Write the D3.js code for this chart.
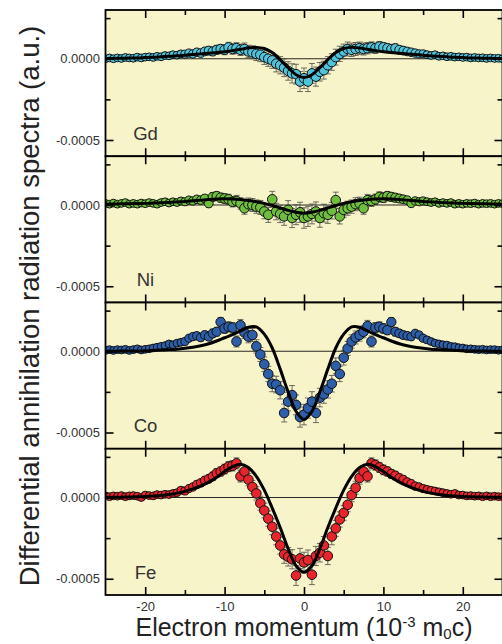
<!DOCTYPE html>
<html>
<head>
<meta charset="utf-8">
<script src="https://cdn.jsdelivr.net/npm/d3@7"></script>
<style>
body { margin: 0; background: #fff; }
svg text { font-family: "Liberation Sans", Arial, Helvetica, sans-serif; }
</style>
</head>
<body>
<div id="graph"></div>
<script>
console.clear()

// electron momentum grid, 10^-3 m0c
var momentum = [
  -25, -24.5, -24, -23.5, -23, -22.5, -22, -21.5, -21, -20.5,
  -20, -19.5, -19, -18.5, -18, -17.5, -17, -16.5, -16, -15.5,
  -15, -14.5, -14, -13.5, -13, -12.5, -12, -11.5, -11, -10.5,
  -10, -9.5, -9, -8.5, -8, -7.5, -7, -6.5, -6, -5.5,
  -5, -4.5, -4, -3.5, -3, -2.5, -2, -1.5, -1, -0.5,
  0,
  0.5, 1, 1.5, 2, 2.5, 3, 3.5, 4, 4.5, 5,
  5.5, 6, 6.5, 7, 7.5, 8, 8.5, 9, 9.5, 10,
  10.5, 11, 11.5, 12, 12.5, 13, 13.5, 14, 14.5, 15,
  15.5, 16, 16.5, 17, 17.5, 18, 18.5, 19, 19.5, 20,
  20.5, 21, 21.5, 22, 22.5, 23, 23.5, 24, 24.5, 25
]

// measured spectra, units of 1e-4
var gdValues = [
  0.0, 0.05, 0.0, 0.05, 0.02, 0.08, 0.05, 0.03, 0.1, 0.05,
  0.1, 0.12, 0.08, 0.15, 0.12, 0.2, 0.18, 0.25, 0.22, 0.3,
  0.28, 0.35, 0.3, 0.4, 0.35, 0.45, 0.5, 0.45, 0.55, 0.6,
  0.55, 0.7, 0.6, 0.65, 0.55, 0.6, 0.45, 0.4, 0.3, 0.25,
  0.1, 0.0, -0.1, -0.3, -0.4, -0.55, -0.75, -0.9, -0.95, -1.4,
  -1.2,
  -1.4, -0.9, -1.1, -0.8, -0.7, -0.4, -0.2, 0.1, 0.3, 0.45,
  0.6, 0.55, 0.6, 0.65, 0.6, 0.65, 0.7, 0.65, 0.75, 0.7,
  0.65, 0.6, 0.65, 0.55, 0.5, 0.45, 0.4, 0.35, 0.3, 0.3,
  0.25, 0.2, 0.25, 0.15, 0.18, 0.12, 0.15, 0.1, 0.12, 0.08,
  0.1, 0.05, 0.08, 0.05, 0.06, 0.02, 0.05, 0.02, 0.03, 0.0
]

var niValues = [
  0.1, 0.05, 0.12, 0.05, 0.1, 0.15, 0.05, 0.1, 0.05, 0.12,
  0.08, 0.15, 0.1, 0.05, 0.15, 0.2, 0.12, 0.2, 0.15, 0.25,
  0.2, 0.3, 0.25, 0.35, 0.3, 0.4, 0.1, 0.5, 0.55, 0.45,
  0.4, 0.35, 0.2, 0.25, 0.1, -0.2, 0.05, 0.0, -0.1, -0.15,
  -0.4, -0.6, 0.35, -0.4, -0.55, -0.7, -0.3, -0.8, -0.6, -0.45,
  -0.8,
  -0.7, -0.55, -0.4, -0.8, -0.5, -0.6, -0.35, 0.3, -0.7, -0.3,
  -0.2, -0.1, 0.05, 0.1, -0.2, 0.3, 0.25, 0.35, 0.5, 0.45,
  0.55, 0.5, 0.45, 0.4, 0.35, 0.3, 0.1, 0.25, 0.2, 0.25,
  0.2, 0.15, 0.2, 0.1, 0.15, 0.1, 0.15, 0.05, 0.1, 0.05,
  0.1, 0.08, 0.12, 0.05, 0.1, 0.08, 0.1, 0.05, 0.1, 0.08
]

var coValues = [
  0.05, 0.1, 0.05, 0.1, 0.08, 0.12, 0.05, 0.1, 0.15, 0.08,
  0.12, 0.15, 0.2, 0.25, 0.3, 0.35, 0.45, 0.4, 0.5, 0.55,
  0.6, 0.8, 0.9, 0.95, 0.85, 1.0, 0.9, 1.1, 1.2, 1.8,
  1.4, 1.5, 1.45, 0.6, 1.6, 1.15, 0.9, 1.0, 0.3, -0.2,
  -0.8, -1.4, -2.0, -2.05, -2.4, -3.8, -3.1, -2.7, -3.3, -4.05,
  -3.9,
  -3.5, -3.1, -3.8, -2.85, -2.65, -2.35, -2.0, -0.9, -1.4, -0.4,
  0.17, 0.6, 0.85, 1.0, 1.2, 1.55, 0.6, 1.45, 1.5, 1.4,
  1.3, 1.8, 1.2, 1.1, 1.0, 0.95, 0.9, 1.1, 1.0, 0.8,
  0.7, 0.6, 0.5, 0.45, 0.4, 0.38, 0.3, 0.28, 0.22, 0.2,
  0.15, 0.15, 0.12, 0.1, 0.12, 0.08, 0.1, 0.1, 0.06, 0.08
]

var feValues = [
  0.1, 0.05, 0.1, 0.08, 0.12, 0.05, 0.1, 0.12, 0.08, 0.0,
  0.15, 0.12, 0.1, 0.18, 0.15, 0.2, 0.18, 0.25, 0.3, 0.45,
  0.4, 0.55, 0.65, 0.8, 0.9, 1.05, 1.15, 1.3, 1.5, 1.6,
  1.75, 1.9, 1.95, 2.1, 1.3, 1.6, 1.1, 0.65, 0.25, -0.35,
  -0.8, -1.3, -1.8, -2.4, -2.95, -3.5, -3.65, -3.8, -4.8, -3.75,
  -4.0,
  -3.85, -4.75, -3.6, -3.4, -2.95, -3.6, -2.4, -1.9, -1.35, -0.95,
  -0.45, 0.15, 0.6, 1.2, 1.6, 1.3, 2.1, 2.0, 1.85, 1.7,
  1.6, 1.45, 1.35, 1.2, 1.1, 0.95, 0.85, 0.7, 0.65, 0.55,
  0.5, 0.45, 0.4, 0.35, 0.3, 0.25, 0.2, 0.25, 0.15, 0.15,
  0.1, 0.12, 0.08, 0.1, 0.05, 0.1, 0.05, 0.08, 0.05, 0.05
]

// error bar half-heights, units of 1e-4
var errValues = [
  0.1, 0.1, 0.1, 0.1, 0.1, 0.1, 0.1, 0.1, 0.1, 0.1,
  0.12, 0.12, 0.13, 0.13, 0.14, 0.14, 0.15, 0.15, 0.16, 0.17,
  0.18, 0.19, 0.2, 0.21, 0.22, 0.23, 0.24, 0.26, 0.27, 0.28,
  0.3, 0.31, 0.32, 0.34, 0.35, 0.37, 0.38, 0.4, 0.41, 0.43,
  0.45, 0.47, 0.49, 0.51, 0.53, 0.55, 0.57, 0.59, 0.61, 0.62,
  0.63,
  0.62, 0.61, 0.59, 0.57, 0.55, 0.53, 0.51, 0.49, 0.47, 0.45,
  0.43, 0.41, 0.4, 0.38, 0.37, 0.35, 0.34, 0.32, 0.31, 0.3,
  0.28, 0.27, 0.26, 0.24, 0.23, 0.22, 0.21, 0.2, 0.19, 0.18,
  0.17, 0.16, 0.15, 0.15, 0.14, 0.14, 0.13, 0.13, 0.12, 0.12,
  0.1, 0.1, 0.1, 0.1, 0.1, 0.1, 0.1, 0.1, 0.1, 0.1
]

// calculated curves on a 1-unit grid
var fitMomentum = [
  -25, -24, -23, -22, -21, -20, -19, -18, -17, -16, -15, -14, -13,
  -12, -11, -10, -9, -8, -7, -6, -5, -4, -3, -2, -1, 0,
  1, 2, 3, 4, 5, 6, 7, 8, 9, 10, 11, 12, 13,
  14, 15, 16, 17, 18, 19, 20, 21, 22, 23, 24, 25
]

var gdFit = [
  0.01, 0.02, 0.03, 0.04, 0.05, 0.07, 0.09, 0.12, 0.15, 0.18, 0.22, 0.26, 0.3,
  0.34, 0.38, 0.43, 0.5, 0.58, 0.66, 0.7, 0.63, 0.38, -0.05, -0.55, -0.98, -1.15,
  -0.98, -0.55, -0.05, 0.38, 0.63, 0.7, 0.66, 0.58, 0.5, 0.43, 0.38, 0.34, 0.3,
  0.26, 0.22, 0.18, 0.15, 0.12, 0.09, 0.07, 0.05, 0.04, 0.03, 0.02, 0.01
]

var niFit = [
  0.05, 0.06, 0.07, 0.08, 0.09, 0.1, 0.12, 0.14, 0.16, 0.19, 0.22, 0.26, 0.3,
  0.34, 0.37, 0.38, 0.37, 0.34, 0.28, 0.2, 0.1, -0.03, -0.18, -0.33, -0.45, -0.5,
  -0.45, -0.33, -0.18, -0.03, 0.1, 0.2, 0.28, 0.34, 0.37, 0.38, 0.37, 0.34, 0.3,
  0.26, 0.22, 0.19, 0.16, 0.14, 0.12, 0.1, 0.09, 0.08, 0.07, 0.06, 0.05
]

var coFit = [
  0, 0, 0.01, 0.01, 0.02, 0.03, 0.05, 0.07, 0.1, 0.13, 0.18, 0.25, 0.34,
  0.46, 0.63, 0.83, 1.02, 1.25, 1.48, 1.5, 1.05, 0.2, -1.1, -2.5, -3.7, -4.2,
  -3.7, -2.5, -1.1, 0.2, 1.05, 1.5, 1.48, 1.25, 1.02, 0.83, 0.63, 0.46, 0.34,
  0.25, 0.18, 0.13, 0.1, 0.07, 0.05, 0.03, 0.02, 0.01, 0.01, 0, 0
]

var feFit = [
  0.01, 0.01, 0.02, 0.03, 0.04, 0.06, 0.09, 0.13, 0.19, 0.27, 0.38, 0.53, 0.72,
  0.95, 1.25, 1.6, 1.9, 2.05, 1.85, 1.3, 0.45, -0.65, -1.85, -3.15, -4.2, -4.6,
  -4.2, -3.15, -1.85, -0.65, 0.45, 1.3, 1.85, 2.05, 1.9, 1.6, 1.25, 0.95, 0.72,
  0.53, 0.38, 0.27, 0.19, 0.13, 0.09, 0.06, 0.04, 0.03, 0.02, 0.01, 0.01
]

var elements = ['Gd', 'Ni', 'Co', 'Fe']
var xMajorTicks = [-20, -10, 0, 10, 20]
var xMinorTicks = [-15, -5, 5, 15]
var xTickLabels = ['-20', '-10', '0', '10', '20']
var yMajorTicks = [0, -5]
var yMinorTicks = [2.5, -2.5]
var yTickLabels = ['0.0000', '-0.0005']

var colors = {Gd: '#4fc3da', Ni: '#6fbe3e', Co: '#2c5ea9', Fe: '#e8242c'}
var spectra = {Gd: gdValues, Ni: niValues, Co: coValues, Fe: feValues}
var fits = {Gd: gdFit, Ni: niFit, Co: coFit, Fe: feFit}

var width = 502, height = 644
var panelTop = 10, panelH = 146.25
var bg = '#f8f4c9'

var x = d3.scaleLinear().domain([-25, 25]).range([105.5, 502.5])
var r = d3.scaleLinear().domain([10, 16]).range([4.8, 3.9]).clamp(true)

var svg = d3.select('#graph').append('svg')
  .attr('width', width).attr('height', height)

elements.forEach(function(name, i){
  var top = panelTop + i*panelH
  var bottom = top + panelH
  var y = d3.scaleLinear().domain([-6, 3]).range([bottom, top])

  var points = momentum.map(function(m, j){
    return {m: m, v: spectra[name][j], e: errValues[j]}
  })
  var curve = fitMomentum.map(function(m, j){ return {m: m, v: fits[name][j]} })

  svg.append('clipPath').attr('id', 'clip' + i)
    .append('rect')
    .attr('x', x(-25)).attr('y', top)
    .attr('width', x(25) - x(-25)).attr('height', panelH)

  var g = svg.append('g')

  g.append('rect')
    .attr('x', x(-25)).attr('y', top)
    .attr('width', x(25) - x(-25)).attr('height', panelH)
    .attr('fill', bg)

  var plot = g.append('g').attr('clip-path', 'url(#clip' + i + ')')

  plot.append('line')
    .attr('x1', x(-25)).attr('x2', x(25))
    .attr('y1', y(0)).attr('y2', y(0))
    .attr('stroke', '#111').attr('stroke-width', 0.9)

  // error bars
  var eb = plot.append('g')
    .attr('stroke', '#444').attr('stroke-width', 0.9).attr('stroke-opacity', 0.85)
  eb.selectAll('line.bar').data(points).enter().append('line').attr('class', 'bar')
    .attr('x1', d => x(d.m)).attr('x2', d => x(d.m))
    .attr('y1', d => y(d.v - d.e)).attr('y2', d => y(d.v + d.e))
  eb.selectAll('line.capTop').data(points).enter().append('line').attr('class', 'capTop')
    .attr('x1', d => x(d.m) - 3).attr('x2', d => x(d.m) + 3)
    .attr('y1', d => y(d.v + d.e)).attr('y2', d => y(d.v + d.e))
  eb.selectAll('line.capBot').data(points).enter().append('line').attr('class', 'capBot')
    .attr('x1', d => x(d.m) - 3).attr('x2', d => x(d.m) + 3)
    .attr('y1', d => y(d.v - d.e)).attr('y2', d => y(d.v - d.e))

  plot.append('g').selectAll('circle').data(points).enter().append('circle')
    .attr('cx', d => x(d.m)).attr('cy', d => y(d.v))
    .attr('r', d => r(Math.abs(d.m)))
    .attr('fill', colors[name])
    .attr('stroke', '#111').attr('stroke-width', 1)

  var line = d3.line()
    .x(d => x(d.m)).y(d => y(d.v))
    .curve(d3.curveCatmullRom.alpha(0.5))

  plot.append('path').datum(curve)
    .attr('d', line)
    .attr('fill', 'none').attr('stroke', '#000').attr('stroke-width', 3)

  // ticks, all pointing inwards
  function ticks(axis, vals, size, tr){
    var a = g.append('g').attr('transform', tr)
      .call(axis.tickValues(vals).tickSize(-size).tickSizeOuter(0).tickFormat(''))
    a.select('.domain').remove()
    a.selectAll('line').attr('stroke', '#000').attr('stroke-width', 1.6)
    return a
  }
  ticks(d3.axisBottom(x), xMajorTicks, 8, 'translate(0,' + bottom + ')')
  ticks(d3.axisBottom(x), xMinorTicks, 5, 'translate(0,' + bottom + ')')
  ticks(d3.axisTop(x), xMajorTicks, 8, 'translate(0,' + top + ')')
  ticks(d3.axisTop(x), xMinorTicks, 5, 'translate(0,' + top + ')')
  ticks(d3.axisLeft(y), yMajorTicks, 8, 'translate(' + x(-25) + ',0)')
  ticks(d3.axisLeft(y), yMinorTicks, 5, 'translate(' + x(-25) + ',0)')
  ticks(d3.axisRight(y), yMajorTicks, 8, 'translate(' + x(25) + ',0)')
  ticks(d3.axisRight(y), yMinorTicks, 5, 'translate(' + x(25) + ',0)')

  g.append('rect')
    .attr('x', x(-25)).attr('y', top)
    .attr('width', x(25) - x(-25)).attr('height', panelH)
    .attr('fill', 'none').attr('stroke', '#000').attr('stroke-width', 1.8)

  // y tick labels
  var ya = g.append('g').attr('transform', 'translate(' + x(-25) + ',0)')
    .call(d3.axisLeft(y).tickValues(yMajorTicks).tickSize(0).tickPadding(5.5)
      .tickFormat((d, k) => yTickLabels[k]))
  ya.select('.domain').remove()
  ya.selectAll('text').attr('font-size', 13).attr('fill', '#333')
    .style('font-family', '"Liberation Sans", Arial, sans-serif')

  g.append('text')
    .attr('x', 145.5).attr('y', bottom - 16.5)
    .attr('text-anchor', 'middle')
    .attr('font-size', 18.5).attr('fill', '#333')
    .text(name)

  if (i == elements.length - 1){
    var xa = g.append('g').attr('transform', 'translate(0,' + bottom + ')')
      .call(d3.axisBottom(x).tickValues(xMajorTicks).tickSize(0).tickPadding(7)
        .tickFormat((d, k) => xTickLabels[k]))
    xa.select('.domain').remove()
    xa.selectAll('text').attr('font-size', 13).attr('fill', '#333')
      .style('font-family', '"Liberation Sans", Arial, sans-serif')
  }
})

// axis titles
var xt = svg.append('text')
  .attr('x', x(0)).attr('y', 636)
  .attr('text-anchor', 'middle')
  .attr('font-size', 25).attr('fill', '#222')
xt.append('tspan').text('Electron momentum (10')
xt.append('tspan').attr('font-size', 15).attr('dy', -9).text('-3')
xt.append('tspan').attr('dy', 9).text(' m')
xt.append('tspan').attr('font-size', 15).attr('dy', 3).text('0')
xt.append('tspan').attr('dy', -3).text('c)')

svg.append('text')
  .attr('transform', 'translate(38.5,306) rotate(-90)')
  .attr('text-anchor', 'middle')
  .attr('font-size', 27.5).attr('fill', '#222')
  .text('Differential annihilation radiation spectra (a.u.)')
</script>
</body>
</html>
